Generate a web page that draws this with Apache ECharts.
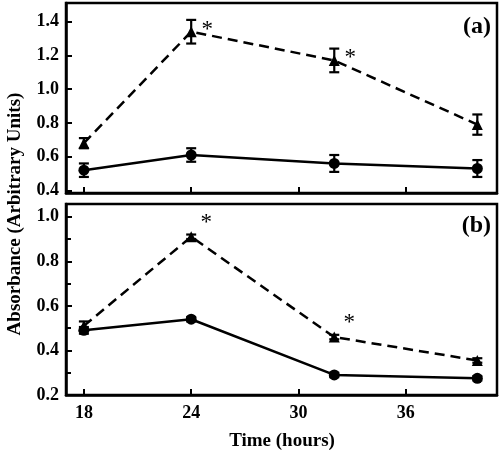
<!DOCTYPE html>
<html>
<head>
<meta charset="utf-8">
<script src="https://cdn.jsdelivr.net/npm/echarts@6/dist/echarts.min.js"></script>
<style>html,body{margin:0;padding:0;background:#fff}#c{width:500px;height:453px}</style>
</head>
<body>
<div id="c"></div>
<script>
const hours = [18, 24, 32, 40];
const xTicks = [18, 24, 30, 36];
// Panel (a)
const aDashed = [0.68, 1.34, 1.17, 0.79];
const aDashedErr = [0.03, 0.07, 0.07, 0.06];
const aSolid = [0.52, 0.61, 0.56, 0.53];
const aSolidErr = [0.04, 0.04, 0.05, 0.05];
const aSig = [false, true, true, false];
const yTicksA = [0.4, 0.6, 0.8, 1.0, 1.2, 1.4];
// Panel (b)
const bDashed = [0.51, 0.91, 0.46, 0.355];
const bDashedErr = [0.02, 0.01, 0.01, 0.01];
const bSolid = [0.49, 0.54, 0.29, 0.275];
const bSolidErr = [0.015, 0.01, 0.01, 0.01];
const bSig = [false, true, true, false];
const yTicksB = [0.2, 0.4, 0.6, 0.8, 1.0];
const yMinorB = [0.3, 0.5, 0.7, 0.9];

const FONT = 'Liberation Serif';
const lab = {fontFamily: FONT, fontWeight: 'bold', fontSize: 18, color: '#000'};

function xAxis(gi, showLabels) {
  return {
    type: 'value', gridIndex: gi, min: 17, max: 41.1,
    axisLine: {show: true, onZero: false, lineStyle: {color: '#000', width: 2.5}},
    axisTick: {show: true, inside: true, length: 6, customValues: xTicks, lineStyle: {color: '#000', width: 2}},
    axisLabel: {show: showLabels, customValues: xTicks, margin: 9, ...lab},
    splitLine: {show: false}
  };
}
function yAxis(gi, min, max, ticks) {
  return {
    type: 'value', gridIndex: gi, min: min, max: max,
    axisLine: {show: true, onZero: false, lineStyle: {color: '#000', width: 2.5}},
    axisTick: {show: true, inside: true, length: 6, customValues: ticks, lineStyle: {color: '#000', width: 2}},
    axisLabel: {show: true, customValues: ticks, margin: 7, formatter: v => v.toFixed(1), ...lab},
    splitLine: {show: false}
  };
}

function errSeries(xi, yi, vals, errs) {
  return {
    type: 'custom', xAxisIndex: xi, yAxisIndex: yi, z: 5,
    data: hours.map((h, i) => [h, vals[i], errs[i]]),
    renderItem: function (params, api) {
      const x = api.value(0), y = api.value(1), e = api.value(2);
      const hi = api.coord([x, y + e]);
      const lo = api.coord([x, y - e]);
      const w = 5;
      const st = {stroke: '#000', lineWidth: 2.2};
      return {type: 'group', children: [
        {type: 'line', shape: {x1: hi[0], y1: hi[1], x2: lo[0], y2: lo[1]}, style: st},
        {type: 'line', shape: {x1: hi[0] - w, y1: hi[1], x2: hi[0] + w, y2: hi[1]}, style: st},
        {type: 'line', shape: {x1: lo[0] - w, y1: lo[1], x2: lo[0] + w, y2: lo[1]}, style: st}
      ]};
    }
  };
}

function lineSeries(xi, yi, vals, dashed, sig, off) {
  return {
    type: 'line', xAxisIndex: xi, yAxisIndex: yi, z: 4,
    symbol: dashed ? 'triangle' : 'circle', symbolSize: 11,
    itemStyle: {color: '#000'},
    lineStyle: {color: '#000', width: 2.5, type: dashed ? [10, 6] : 'solid'},
    data: hours.map((h, i) => [h, vals[i]]),
    label: {
      show: !!sig, position: 'inside', offset: off,
      formatter: p => (sig && sig[p.dataIndex]) ? '*' : '',
      fontFamily: FONT, fontSize: 23, color: '#000'
    },
    animation: false
  };
}

const option = {
  animation: false,
  backgroundColor: '#fff',
  grid: [
    {left: 66, right: 3, top: 3, height: 190, show: true, borderColor: '#000', borderWidth: 2.5},
    {left: 66, right: 3, top: 204, height: 191, show: true, borderColor: '#000', borderWidth: 2.5}
  ],
  xAxis: [xAxis(0, false), xAxis(1, true)],
  yAxis: [
    yAxis(0, 0.385, 1.51, yTicksA),
    yAxis(1, 0.2, 1.057, yTicksB),
    {type: 'value', gridIndex: 1, min: 0.2, max: 1.057, position: 'left',
     axisLine: {show: false}, axisLabel: {show: false}, splitLine: {show: false},
     axisTick: {show: true, inside: true, length: 5, customValues: yMinorB, lineStyle: {color: '#000', width: 2}}}
  ],
  series: [
    errSeries(0, 0, aDashed, aDashedErr),
    errSeries(0, 0, aSolid, aSolidErr),
    lineSeries(0, 0, aDashed, true, aSig, [16, -2]),
    lineSeries(0, 0, aSolid, false, null, [0, 0]),
    errSeries(1, 1, bDashed, bDashedErr),
    errSeries(1, 1, bSolid, bSolidErr),
    lineSeries(1, 1, bDashed, true, bSig, [15, -14]),
    lineSeries(1, 1, bSolid, false, null, [0, 0])
  ],
  graphic: [
    {type: 'text', x: 15, y: 214, rotation: Math.PI / 2,
     style: {text: 'Absorbance (Arbitrary Units)', fontFamily: FONT, fontWeight: 'bold', fontSize: 19, fill: '#000', align: 'center', verticalAlign: 'middle'}},
    {type: 'text', x: 282, y: 441,
     style: {text: 'Time (hours)', fontFamily: FONT, fontWeight: 'bold', fontSize: 19, fill: '#000', align: 'center', verticalAlign: 'middle'}},
    {type: 'text', x: 491, y: 27,
     style: {text: '(a)', fontFamily: FONT, fontWeight: 'bold', fontSize: 24, fill: '#000', align: 'right', verticalAlign: 'middle'}},
    {type: 'text', x: 491, y: 226,
     style: {text: '(b)', fontFamily: FONT, fontWeight: 'bold', fontSize: 24, fill: '#000', align: 'right', verticalAlign: 'middle'}}
  ]
};
const chart = echarts.init(document.getElementById('c'), null, {renderer: 'canvas'});
chart.setOption(option);
</script>
</body>
</html>
